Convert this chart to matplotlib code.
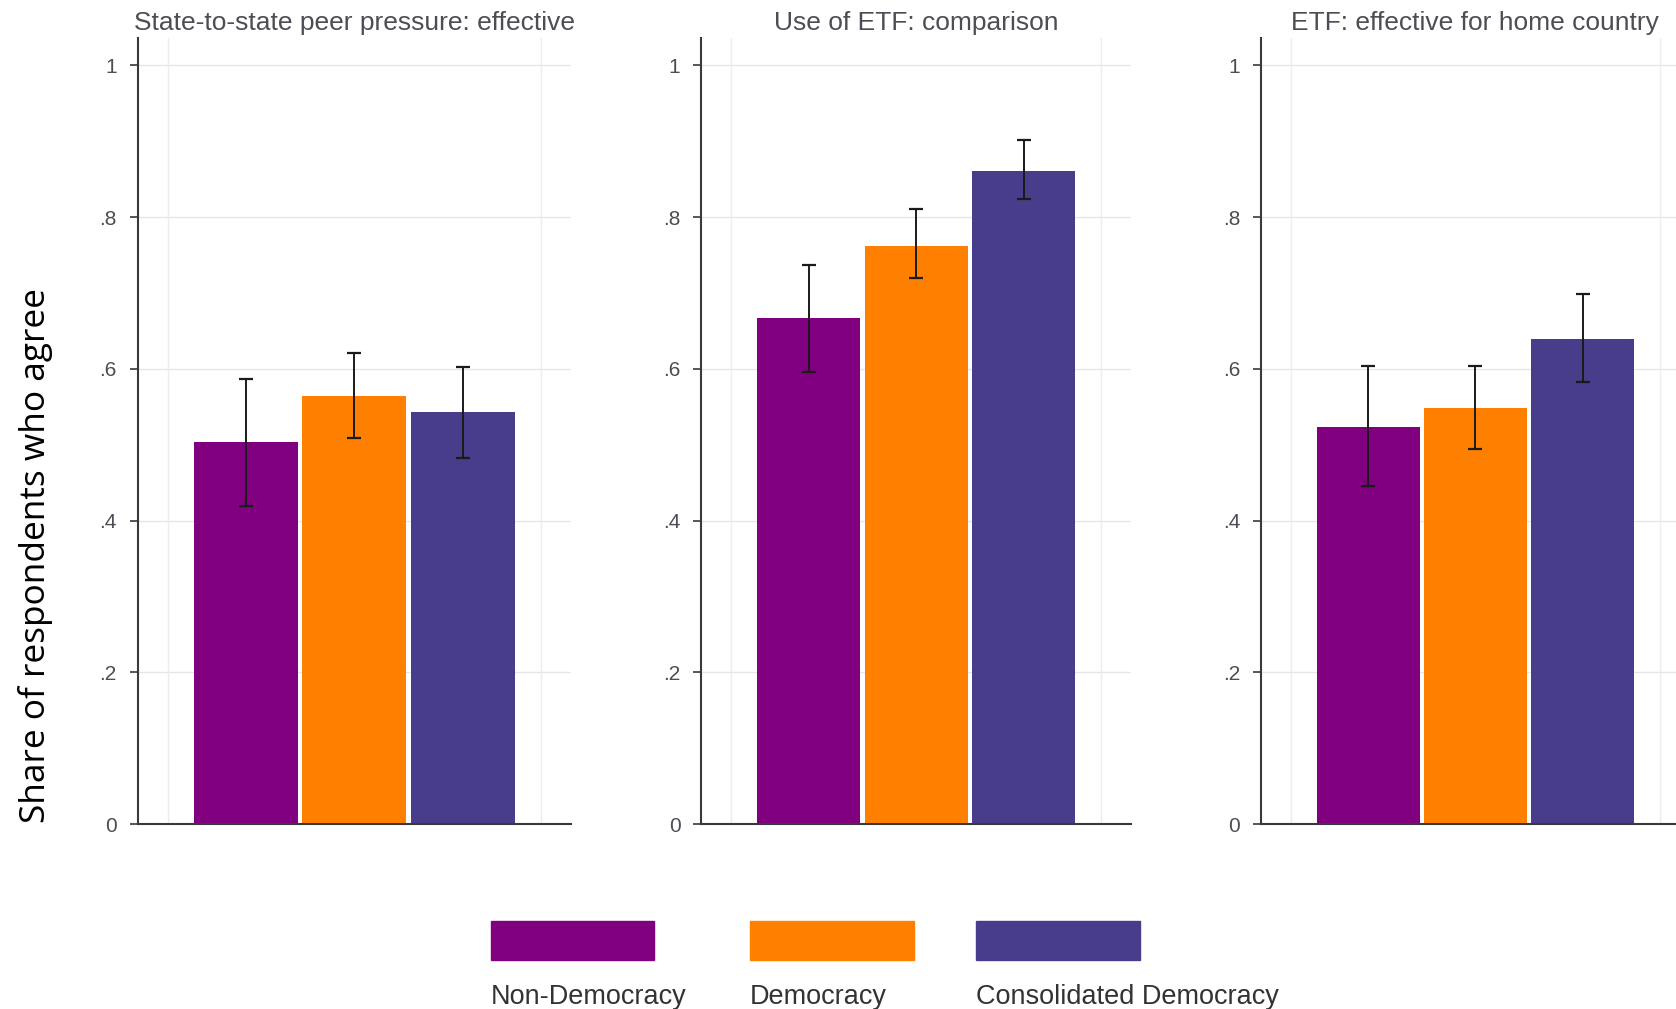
import matplotlib
matplotlib.use("Agg")
import matplotlib.pyplot as plt
from matplotlib.patches import Rectangle

# Survey results: share agreeing, with 95% confidence bounds
panel_titles = [
    "State-to-state peer pressure: effective",
    "Use of ETF: comparison",
    "ETF: effective for home country",
]
regime_types = ["Non-Democracy", "Democracy", "Consolidated Democracy"]

share_peer_pressure = [0.503, 0.564, 0.543]
lower_peer_pressure = [0.419, 0.509, 0.482]
upper_peer_pressure = [0.587, 0.621, 0.602]

share_etf_comparison = [0.667, 0.762, 0.861]
lower_etf_comparison = [0.596, 0.720, 0.824]
upper_etf_comparison = [0.737, 0.811, 0.902]

share_etf_home = [0.523, 0.548, 0.639]
lower_etf_home = [0.445, 0.494, 0.582]
upper_etf_home = [0.604, 0.604, 0.698]

y_ticks = [0, 0.2, 0.4, 0.6, 0.8, 1.0]
y_tick_labels = ["0", ".2", ".4", ".6", ".8", "1"]

bar_colors = ["#800080", "#FF8000", "#483D8B"]

panels = [
    (share_peer_pressure, lower_peer_pressure, upper_peer_pressure),
    (share_etf_comparison, lower_etf_comparison, upper_etf_comparison),
    (share_etf_home, lower_etf_home, upper_etf_home),
]

W, H = 1676, 1009
fig = plt.figure(figsize=(W / 100, H / 100), dpi=100)
fig.patch.set_facecolor("white")

font = "Liberation Sans"
text_gray = "#4d4d55"
axis_gray = "#3a3a3a"

# left edge and width of each panel, in pixels
panel_px = [(137.5, 433.6), (701.3, 429.6), (1261.0, 428.8)]
bottom_px, top_px = 824, 38

for i, ((vals, lo, hi), title) in enumerate(zip(panels, panel_titles)):
    left, width = panel_px[i]
    ax = fig.add_axes([left / W, (H - bottom_px) / H, width / W,
                       (bottom_px - top_px) / H])
    ax.set_xlim(-1.0, 3.0)
    ax.set_ylim(0, 1.036)
    ax.set_facecolor("white")

    # light grid
    for t in y_ticks[1:]:
        ax.axhline(t, color="#e6e6ea", lw=1.0, zorder=0)
    for gx in (-0.72, 2.72):
        ax.axvline(gx, color="#ececf0", lw=1.0, zorder=0)

    x = list(range(len(vals)))
    ax.bar(x, vals, width=0.96, color=bar_colors, zorder=2)
    err_low = [v - l for v, l in zip(vals, lo)]
    err_high = [h - v for v, h in zip(vals, hi)]
    ax.errorbar(x, vals, yerr=[err_low, err_high], fmt="none",
                ecolor="#1a1a1a", elinewidth=1.4, capsize=5, capthick=1.6,
                zorder=3)

    for side in ("top", "right"):
        ax.spines[side].set_visible(False)
    for side in ("left", "bottom"):
        ax.spines[side].set_color(axis_gray)
        ax.spines[side].set_linewidth(1.5)
    ax.set_xticks([])
    ax.set_yticks(y_ticks)
    ax.set_yticklabels(y_tick_labels, fontsize=15, color=text_gray,
                       family=font)
    ax.tick_params(axis="y", length=6, width=1.2, color=axis_gray, pad=9)

    ax.set_title(title, fontsize=19, color=text_gray, family=font, pad=6)

fig.text(36 / W, 1 - 556 / H, "Share of respondents who agree",
         rotation=90, ha="center", va="center", fontsize=25.4,
         family="Open Sans", color="black")

# legend: swatches with labels underneath
legend_x = [490.6, 750.0, 976.0]
for color, label, lx in zip(bar_colors, regime_types, legend_x):
    fig.patches.append(Rectangle((lx / W, 1 - 960 / H), 163.6 / W, 39 / H,
                                 transform=fig.transFigure, color=color))
    fig.text(lx / W, 1 - 997 / H, label, ha="left", va="center",
             fontsize=19.5, family=font, color="#333333")

fig.savefig("out.png", dpi=100, facecolor="white")
